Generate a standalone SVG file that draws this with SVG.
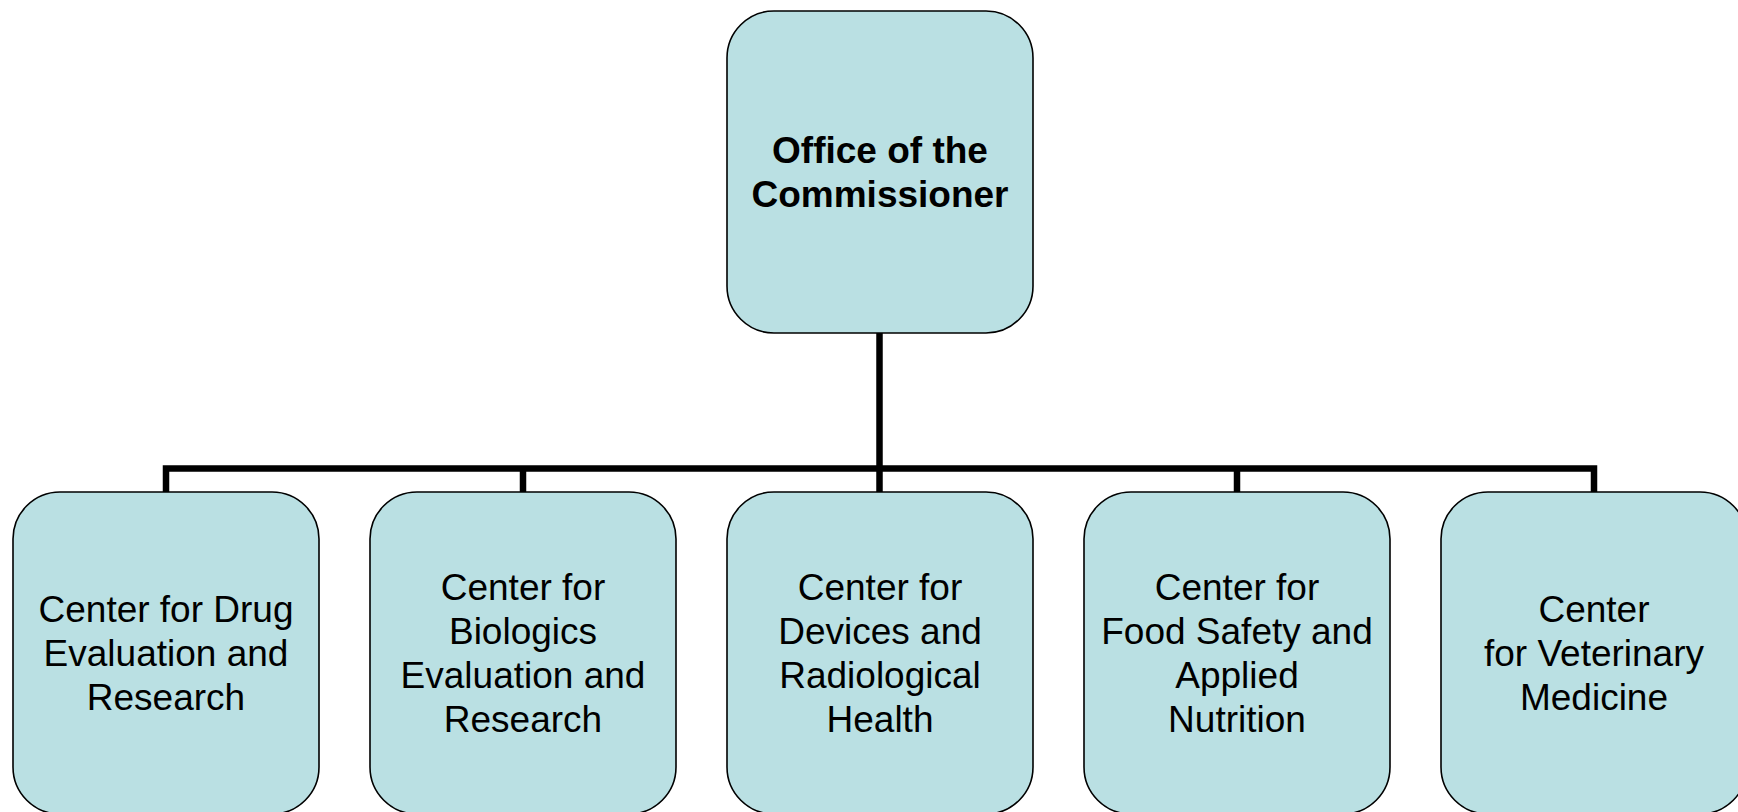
<svg xmlns="http://www.w3.org/2000/svg" width="1738" height="812" viewBox="0 0 1738 812">
  <style>
    .box { fill: #BAE0E3; stroke: #000; stroke-width: 1.6; }
    .wire { fill: none; stroke: #000; stroke-width: 6.5; stroke-linejoin: miter; stroke-linecap: butt; }
    .lbl { font-family: "Liberation Sans", Arial, sans-serif; font-size: 37px; fill: #000; text-anchor: middle; }
    .bold { font-weight: bold; }
  </style>
  <rect width="1738" height="812" fill="#fff"/>

  <!-- tree connectors -->
  <g id="connectors">
    <path class="wire" d="M879.5 333 V492"/>
    <path class="wire" d="M166 492 V468.5 H1594 V492"/>
    <path class="wire" d="M523 468.5 V492"/>
    <path class="wire" d="M1237 468.5 V492"/>
  </g>

  <g id="commissioner">
    <rect class="box" x="727" y="11" width="306" height="322" rx="47" ry="47"/>
    <text class="lbl bold" x="880" y="163">Office of the</text>
    <text class="lbl bold" x="880" y="207">Commissioner</text>
  </g>

  <g id="cder">
    <rect class="box" x="13" y="492" width="306" height="322" rx="47" ry="47"/>
    <text class="lbl" x="166" y="622">Center for Drug</text>
    <text class="lbl" x="166" y="666">Evaluation and</text>
    <text class="lbl" x="166" y="710">Research</text>
  </g>

  <g id="cber">
    <rect class="box" x="370" y="492" width="306" height="322" rx="47" ry="47"/>
    <text class="lbl" x="523" y="600">Center for</text>
    <text class="lbl" x="523" y="644">Biologics</text>
    <text class="lbl" x="523" y="688">Evaluation and</text>
    <text class="lbl" x="523" y="732">Research</text>
  </g>

  <g id="cdrh">
    <rect class="box" x="727" y="492" width="306" height="322" rx="47" ry="47"/>
    <text class="lbl" x="880" y="600">Center for</text>
    <text class="lbl" x="880" y="644">Devices and</text>
    <text class="lbl" x="880" y="688">Radiological</text>
    <text class="lbl" x="880" y="732">Health</text>
  </g>

  <g id="cfsan">
    <rect class="box" x="1084" y="492" width="306" height="322" rx="47" ry="47"/>
    <text class="lbl" x="1237" y="600">Center for</text>
    <text class="lbl" x="1237" y="644">Food Safety and</text>
    <text class="lbl" x="1237" y="688">Applied</text>
    <text class="lbl" x="1237" y="732">Nutrition</text>
  </g>

  <g id="cvm">
    <rect class="box" x="1441" y="492" width="306" height="322" rx="47" ry="47"/>
    <text class="lbl" x="1594" y="622">Center</text>
    <text class="lbl" x="1594" y="666">for Veterinary</text>
    <text class="lbl" x="1594" y="710">Medicine</text>
  </g>
</svg>
